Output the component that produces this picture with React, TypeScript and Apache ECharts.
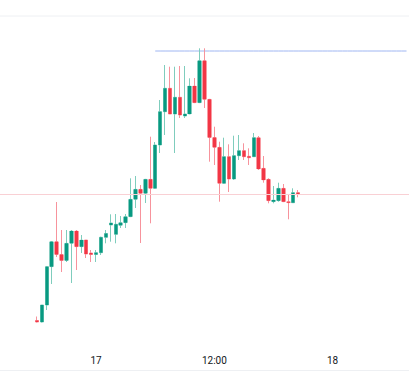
import React, { useEffect, useRef } from "react";
import * as echarts from "echarts";

// 30-minute slots shown on the time axis (16th 14:30 → 18th 07:30)
const slotStart = { day: 16, minutes: 14 * 60 + 30 };
const slotCount = 83;
const firstCandleSlot = "16 18:00";
const tickLabels: Record<string, string> = {
  "17 00:00": "17",
  "17 12:00": "12:00",
  "18 00:00": "18",
};

const opens = [79.5, 78, 95, 133.3, 158.3, 145.5, 139.5, 156.7, 169, 153.3, 160, 147, 145.5, 147.3, 162.7, 175, 165.7, 174.7, 177.3, 183.3, 200.7, 210.7, 206.7, 220.7, 211.7, 255, 288.3, 311.7, 286, 302.7, 284, 286, 314, 297.3, 339.3, 300.7, 262.5, 252.7, 216.7, 243.3, 221, 244.3, 249.3, 243.7, 243.3, 262.3, 231.7, 220.7, 198.3, 199.3, 211.7, 198.3, 197.3, 207.3];
const closes = [78, 95, 133.3, 158.3, 145.5, 139.5, 156.7, 169, 153.3, 160, 146, 145.5, 147.3, 162.7, 166.5, 177, 175.7, 177.3, 183.3, 200.7, 210.7, 206.7, 220.7, 211.7, 255, 288.3, 311.7, 286, 302.7, 285, 286, 314, 297.3, 339.3, 300.7, 262.5, 252.7, 216.7, 243.3, 221, 244.3, 249.3, 243.3, 242.3, 262.3, 231, 220, 199.3, 200, 211.7, 198.3, 197.3, 207.3, 206];
const highs = [83.5, 95, 134, 159, 198, 170, 170, 170, 170, 165, 160, 150, 150, 163.3, 170, 185.7, 186, 184, 186, 221.7, 224, 215, 221, 263.3, 258, 300, 335, 333.3, 333.3, 334, 334, 321.7, 322, 351.7, 351.7, 301, 273.3, 258.3, 262.3, 255.7, 264.3, 265, 256.7, 251.7, 267, 264, 244, 221.7, 214, 217.3, 216, 205, 211.7, 210];
const lows = [77.5, 77.5, 90, 116, 143, 128, 138, 117, 130, 147, 142, 138, 138, 145, 156.7, 158.3, 156.7, 172, 172, 183, 192, 157, 197, 176.7, 211, 247, 265, 286, 247, 282, 282, 286, 297, 297, 292, 238.3, 235, 198.3, 216, 208, 220, 240, 240, 235, 243, 230, 217.3, 196.7, 196.7, 198.3, 198, 180.7, 197, 202.7];

const rayStartSlot = "17 06:00";
const rayLevel = 349;

const pad = (n: number) => (n < 10 ? "0" + n : "" + n);

export default function App() {
  const ref = useRef<HTMLDivElement>(null);
  useEffect(() => {
    if (!ref.current) return;
    const chart = echarts.init(ref.current, null, { renderer: "svg" });

    const categories: string[] = [];
    for (let k = 0; k < slotCount; k++) {
      const m = slotStart.minutes + k * 30;
      const day = slotStart.day + Math.floor(m / 1440);
      const mm = m % 1440;
      categories.push(`${day} ${pad(Math.floor(mm / 60))}:${pad(mm % 60)}`);
    }
    const first = categories.indexOf(firstCandleSlot);
    const rayStart = categories.indexOf(rayStartSlot);
    const wickData: any[] = categories.map(() => "-");
    const bodyData: any[] = categories.map(() => "-");
    opens.forEach((o, i) => {
      const c = closes[i];
      wickData[first + i] = [o, c, lows[i], highs[i]];
      bodyData[first + i] = [o, c, Math.min(o, c), Math.max(o, c)];
    });
    const rayData = categories.map((_, k) => (k >= rayStart ? rayLevel : "-"));
    const lastClose = closes[closes.length - 1];

    chart.setOption({
      animation: false,
      grid: { left: -1, right: 0, top: 16, bottom: 45 },
      xAxis: {
        type: "category",
        data: categories,
        boundaryGap: true,
        axisLine: { show: false },
        axisTick: { show: false },
        splitLine: { show: false },
        axisLabel: {
          interval: (_idx: number, v: string) => v in tickLabels,
          formatter: (v: string) => tickLabels[v] || "",
          color: "#131722",
          fontSize: 10,
          fontFamily: "Roboto, sans-serif",
          margin: 8,
          hideOverlap: false,
        },
      },
      yAxis: {
        type: "value",
        min: 53,
        max: 384,
        show: false,
        splitLine: { show: false },
      },
      graphic: [
        { type: "line", shape: { x1: 0, y1: 16, x2: 409, y2: 16 }, style: { stroke: "#eef0f3", lineWidth: 1 } },
        { type: "line", shape: { x1: 0, y1: 370.5, x2: 409, y2: 370.5 }, style: { stroke: "#eef0f3", lineWidth: 1 } },
      ],
      series: [
        {
          type: "line",
          data: rayData,
          showSymbol: false,
          symbol: "none",
          silent: true,
          lineStyle: { color: "#9fb6f2", width: 1 },
          itemStyle: { color: "#9fb6f2" },
          z: 1,
        },
        {
          type: "candlestick",
          data: wickData,
          barWidth: 3,
          z: 2,
          itemStyle: {
            color: "#7fcdbd",
            color0: "#f7939c",
            borderColor: "#7fcdbd",
            borderColor0: "#f7939c",
            borderWidth: 1,
          },
        },
        {
          type: "candlestick",
          data: bodyData,
          barWidth: 4,
          z: 3,
          itemStyle: {
            color: "#089981",
            color0: "#f23645",
            borderColor: "#089981",
            borderColor0: "#f23645",
            borderWidth: 0,
          },
          markLine: {
            silent: true,
            symbol: ["none", "none"],
            label: { show: false },
            lineStyle: { color: "#f9d0d4", width: 1, type: "solid" },
            data: [{ yAxis: lastClose }],
          },
        },
      ],
    });
    return () => chart.dispose();
  }, []);
  return (
    <div
      ref={ref}
      style={{ position: "fixed", left: 0, top: 0, width: 409, height: 392, background: "#ffffff" }}
    />
  );
}
